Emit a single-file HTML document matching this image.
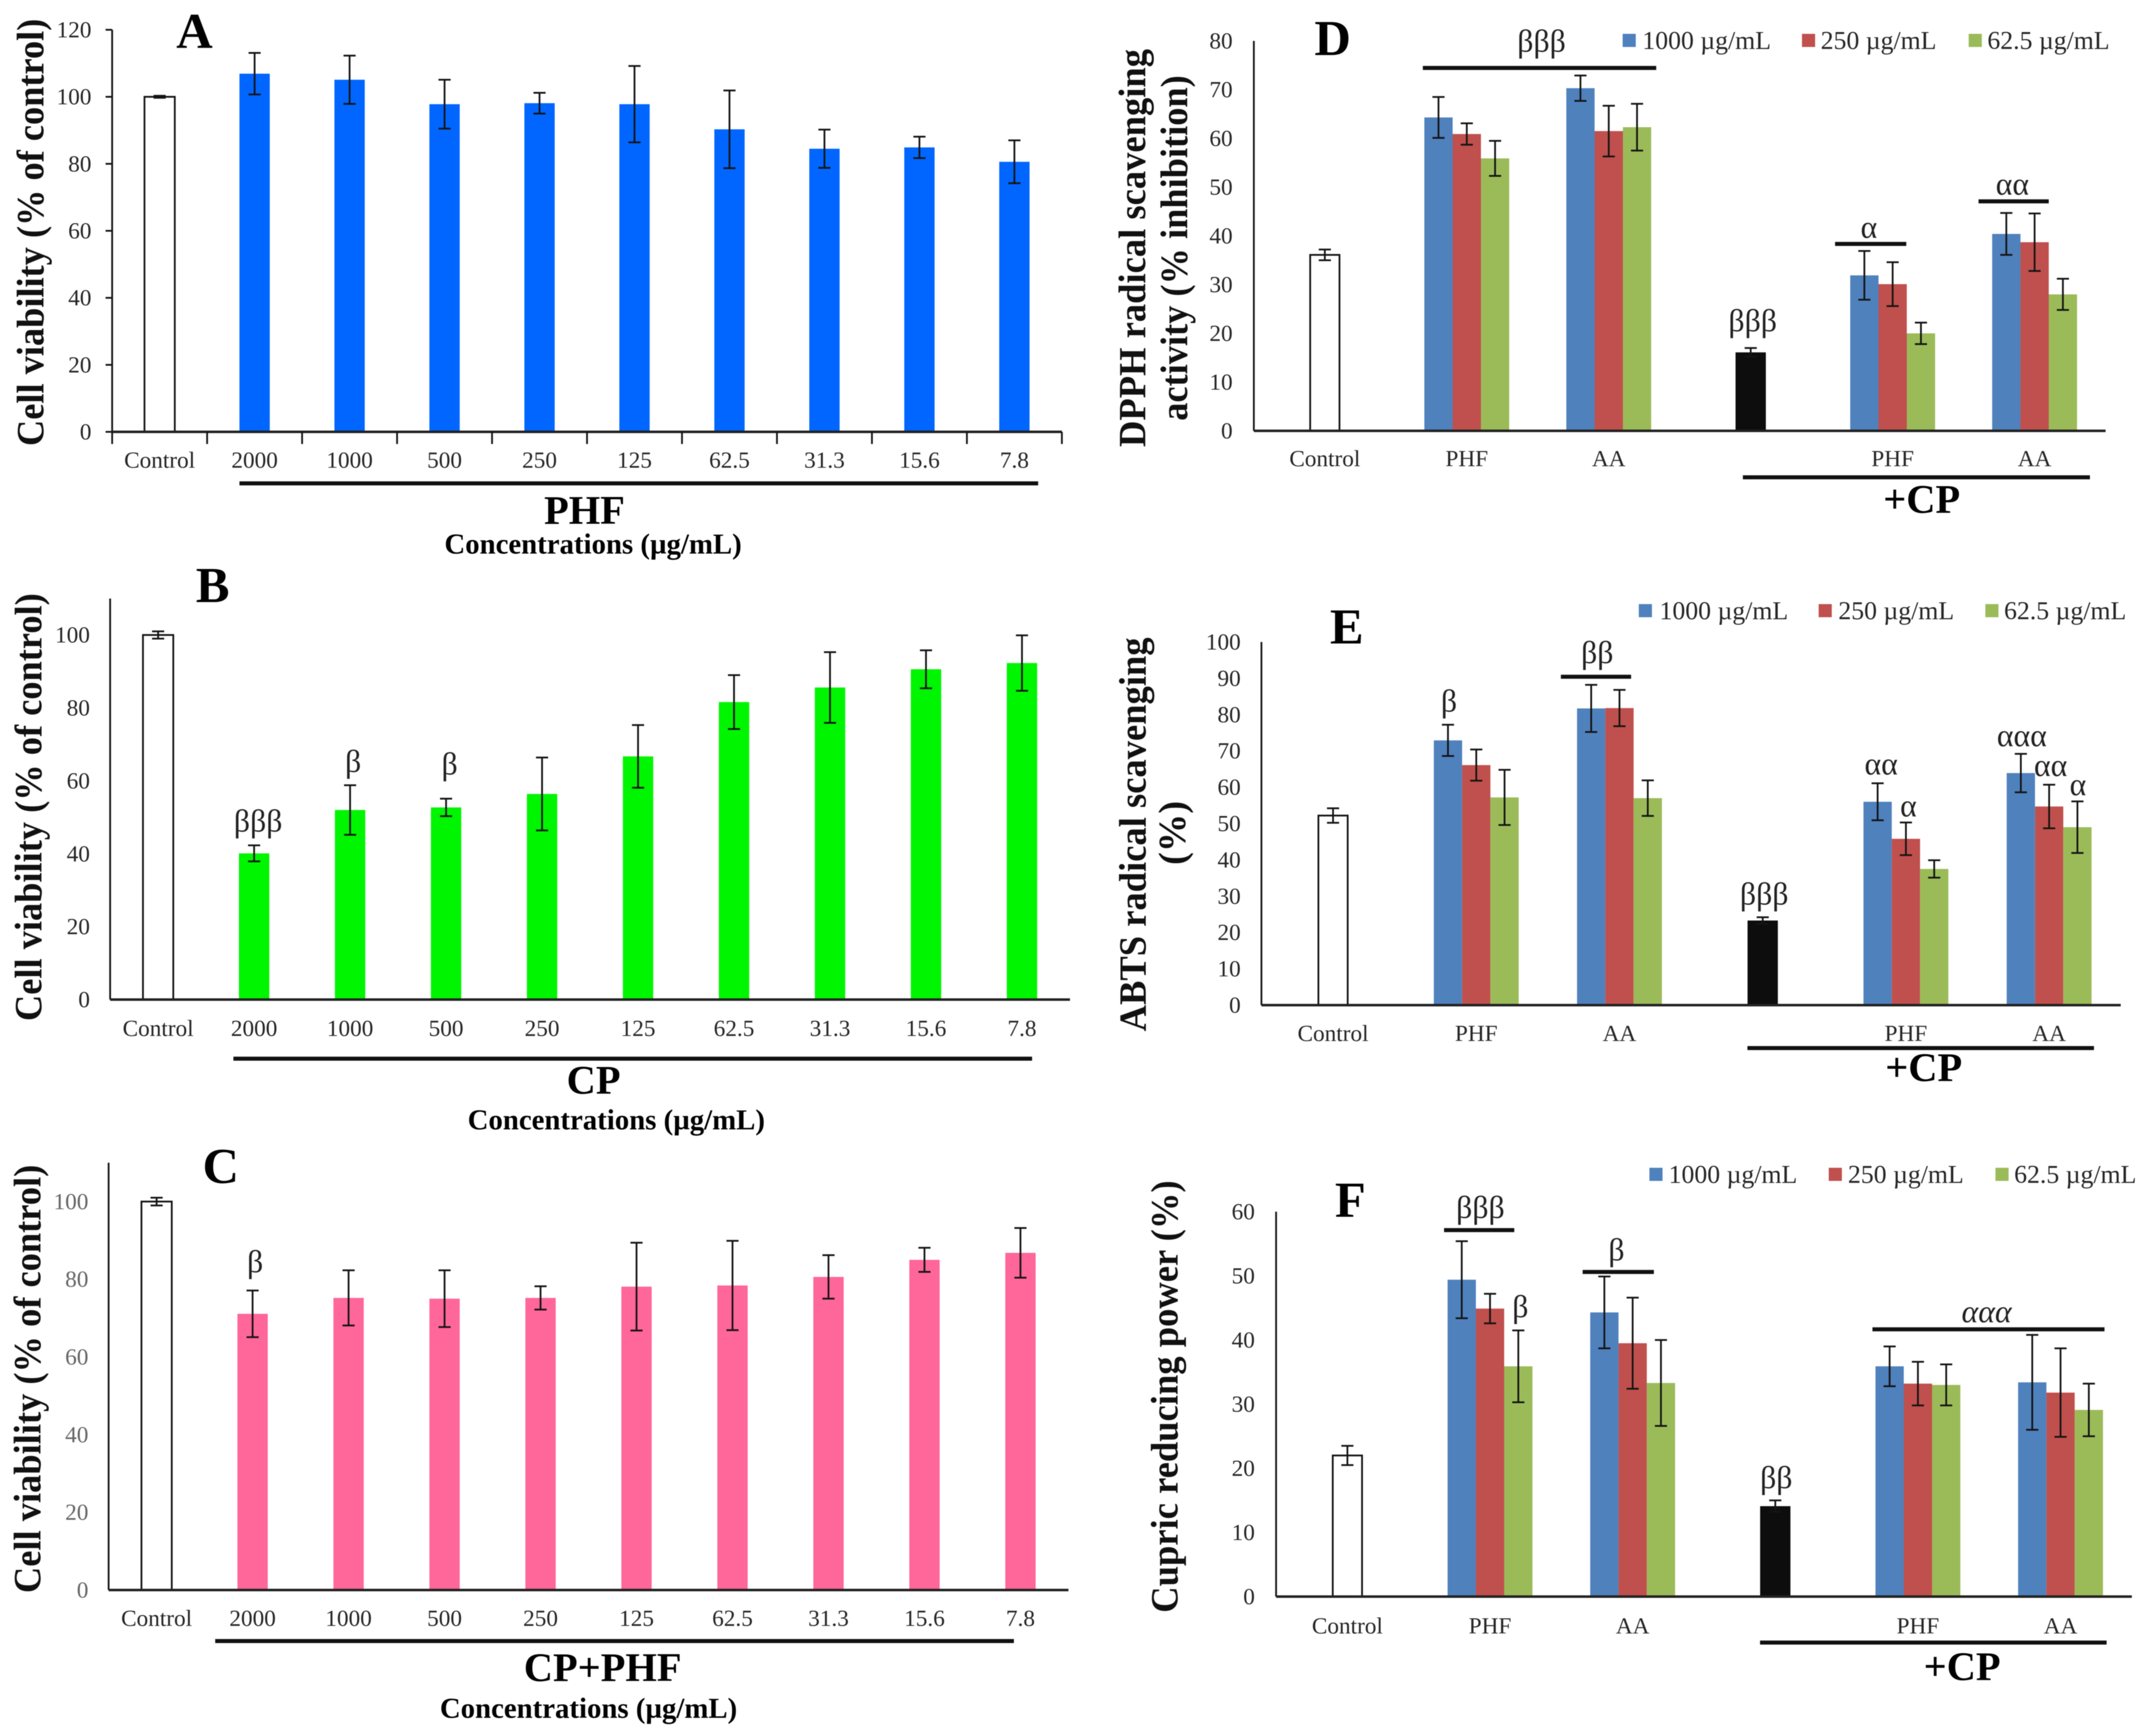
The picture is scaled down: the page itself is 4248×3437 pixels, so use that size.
<!DOCTYPE html>
<html lang="en">
<head>
<meta charset="utf-8">
<title>Cell viability and antioxidant activity panels</title>
<style>
html,body{margin:0;padding:0;background:#fff;width:4248px;height:3437px;overflow:hidden}
svg{display:block;position:absolute;left:0;top:0;filter:blur(0.9px)}
text{font-family:"Liberation Serif",serif;fill:#1a1a1a}
.t{font-size:46px;fill:#262626}
.title{font-size:76px;font-weight:bold;fill:#111}
.letter{font-size:100px;font-weight:bold;fill:#000;text-anchor:middle}
.group{font-size:80px;font-weight:bold;fill:#000;text-anchor:middle}
.conc{font-size:57px;font-weight:bold;fill:#000;text-anchor:middle}
.sig{font-size:63px;fill:#222;text-anchor:middle}
.leg{font-size:51px;fill:#262626}
</style>
</head>
<body>
<svg id="figure" xmlns="http://www.w3.org/2000/svg" width="4248" height="3437" viewBox="0 0 4248 3437">
  <rect x="0" y="0" width="4248" height="3437" fill="#fff"/>

  <g id="panel-a"></g>
  <g id="panel-b"></g>
  <g id="panel-c"></g>
  <g id="panel-d"></g>
  <g id="panel-e"></g>
  <g id="panel-f"></g>

  <text class="letter" x="385" y="95">A</text>
  <text class="title" text-anchor="middle" textLength="846" lengthAdjust="spacingAndGlyphs" transform="translate(86,460) rotate(-90)">Cell viability (% of control)</text>
  <rect x="474" y="953" width="1581" height="8" fill="#111"/>
  <text class="group" x="1157" y="1037">PHF</text>
  <text class="conc" x="1174" y="1096">Concentrations (µg/mL)</text>

  <text class="letter" x="421" y="1192">B</text>
  <text class="title" text-anchor="middle" textLength="847" lengthAdjust="spacingAndGlyphs" transform="translate(82,1598) rotate(-90)">Cell viability (% of control)</text>
  <rect x="462" y="2092" width="1581" height="8" fill="#111"/>
  <text class="group" x="1175" y="2165">CP</text>
  <text class="conc" x="1220" y="2236">Concentrations (µg/mL)</text>

  <text class="letter" x="437" y="2342">C</text>
  <text class="title" text-anchor="middle" textLength="848" lengthAdjust="spacingAndGlyphs" transform="translate(80,2730) rotate(-90)">Cell viability (% of control)</text>
  <rect x="426" y="3245" width="1581" height="8" fill="#111"/>
  <text class="group" x="1193" y="3328">CP+PHF</text>
  <text class="conc" x="1165" y="3401">Concentrations (µg/mL)</text>

  <text class="letter" x="2638" y="109">D</text>
  <text class="title" text-anchor="middle" textLength="788" lengthAdjust="spacingAndGlyphs" transform="translate(2267,491) rotate(-90)">DPPH radical scavenging</text>
  <text class="title" text-anchor="middle" textLength="684" lengthAdjust="spacingAndGlyphs" transform="translate(2350,491) rotate(-90)">activity (% inhibition)</text>
  <rect x="3450" y="941" width="687" height="8" fill="#111"/>
  <text class="group" x="3804" y="1015">+CP</text>

  <text class="letter" x="2666" y="1274">E</text>
  <text class="title" text-anchor="middle" textLength="780" lengthAdjust="spacingAndGlyphs" transform="translate(2268,1652) rotate(-90)">ABTS radical scavenging</text>
  <text class="title" text-anchor="middle" transform="translate(2346,1649) rotate(-90)">(%)</text>
  <rect x="3459" y="2071" width="686" height="8" fill="#111"/>
  <text class="group" x="3808" y="2140">+CP</text>

  <text class="letter" x="2673" y="2409">F</text>
  <text class="title" text-anchor="middle" textLength="856" lengthAdjust="spacingAndGlyphs" transform="translate(2331,2765) rotate(-90)">Cupric reducing power (%)</text>
  <rect x="3484" y="3248" width="686" height="8" fill="#111"/>
  <text class="group" x="3884" y="3326">+CP</text>
</svg>

<script>
// ---------- shared labels ----------
var concentrationCategories = ['Control', '2000', '1000', '500', '250', '125', '62.5', '31.3', '15.6', '7.8'];
var treatmentCategories = ['Control', 'PHF', 'AA', '', 'PHF', 'AA'];
var legendLabels = ['1000 µg/mL', '250 µg/mL', '62.5 µg/mL'];

// ---------- panel A ----------
var aTicks = [0, 20, 40, 60, 80, 100, 120];
var aValues = [100, 106.9, 105.1, 97.8, 98.1, 97.8, 90.3, 84.5, 84.9, 80.6];
var aErrors = [0.3, 6.2, 7.2, 7.3, 3.1, 11.4, 11.6, 5.7, 3.2, 6.4];

// ---------- panel B ----------
var bTicks = [0, 20, 40, 60, 80, 100];
var bValues = [100, 40.1, 52, 52.7, 56.4, 66.7, 81.6, 85.6, 90.6, 92.3];
var bErrors = [1, 2.2, 6.8, 2.4, 10, 8.6, 7.4, 9.7, 5.2, 7.6];

// ---------- panel C ----------
var cTicks = [0, 20, 40, 60, 80, 100];
var cValues = [100, 71.1, 75.2, 75, 75.2, 78.1, 78.4, 80.6, 85, 86.8];
var cErrors = [1, 6, 7.1, 7.3, 3, 11.3, 11.5, 5.6, 3.1, 6.4];

// ---------- panel D ----------
var dTicks = [0, 10, 20, 30, 40, 50, 60, 70, 80];
var dControl = [36.1, 1.1];
var dCp = [16.1, 0.9];
var dSeries1000 = [64.3, 70.3, 31.9, 40.4];
var dSeries250 = [60.9, 61.5, 30.1, 38.7];
var dSeries625 = [55.9, 62.3, 20, 28];
var dErrors1000 = [4.2, 2.6, 5, 4.3];
var dErrors250 = [2.2, 5.2, 4.5, 5.9];
var dErrors625 = [3.6, 4.8, 2.2, 3.2];

// ---------- panel E ----------
var eTicks = [0, 10, 20, 30, 40, 50, 60, 70, 80, 90, 100];
var eControl = [52.2, 2];
var eCp = [23.3, 0.9];
var eSeries1000 = [72.9, 81.7, 56, 63.9];
var eSeries250 = [66.1, 81.8, 45.8, 54.7];
var eSeries625 = [57.2, 57, 37.5, 49];
var eErrors1000 = [4.3, 6.5, 5.1, 5.3];
var eErrors250 = [4.3, 5, 4.5, 6];
var eErrors625 = [7.6, 4.9, 2.4, 7.1];

// ---------- panel F ----------
var fTicks = [0, 10, 20, 30, 40, 50, 60];
var fControl = [22, 1.5];
var fCp = [14.1, 0.9];
var fSeries1000 = [49.4, 44.3, 35.9, 33.4];
var fSeries250 = [44.9, 39.5, 33.2, 31.8];
var fSeries625 = [35.9, 33.3, 33, 29.1];
var fErrors1000 = [6, 5.6, 3.1, 7.4];
var fErrors250 = [2.3, 7.1, 3.4, 6.9];
var fErrors625 = [5.6, 6.7, 3.2, 4.1];

var SVGNS = 'http://www.w3.org/2000/svg';
var INK = '#141414';

function make(parent, tag, attrs, txt) {
  var el = document.createElementNS(SVGNS, tag);
  for (var k in attrs) { el.setAttribute(k, attrs[k]); }
  if (txt !== undefined) { el.textContent = txt; }
  parent.appendChild(el);
  return el;
}

function linearY(zero, top, max) {
  return function (v) { return zero - (v / max) * (zero - top); };
}
function bandX(left, right, count) {
  var step = (right - left) / count;
  return function (i) { return left + step * (i + 0.5); };
}

function drawAxes(g, key, o) {
  var el;
  el = make(g, 'line', { x1: o.left, x2: o.left, y1: o.top, y2: o.zero, stroke: INK, 'stroke-width': 3.5 });
  
  
  o.ticks.forEach(function (t) {
    var y = o.y(t);
    var label = make(g, 'text', { x: o.left + o.labelDx, y: y + 15, 'text-anchor': 'end', 'class': 't', style: 'fill:' + o.tickColor }, String(t));
    
    
    if (o.yTickMarks) {
      var tick = make(g, 'line', { x1: o.left - 13, x2: o.left, y1: y, y2: y, stroke: INK, 'stroke-width': 3.5 });
      
      
    }
  });
}

function drawXAxis(g, key, o, cats) {
  var el = make(g, 'line', { x1: o.left, x2: o.right, y1: o.zero, y2: o.zero, stroke: '#222', 'stroke-width': 5 });
  
  
  cats.forEach(function (c, i) {
    if (c === '') { return; }
    var label = make(g, 'text', { x: o.x(i), y: o.labelY, 'text-anchor': 'middle', 'class': 't' }, c);
    
    
  });
  if (o.xTickMarks) {
    for (var i = 0; i <= cats.length; i++) {
      var tx = o.left + (o.right - o.left) * i / cats.length;
      var tick = make(g, 'line', { x1: tx, x2: tx, y1: o.zero, y2: o.zero + 24, stroke: INK, 'stroke-width': 3.5 });
      
      
    }
  }
}

function drawBar(g, key, o, cx, width, value, fill, stroke) {
  var y = o.y(value);
  var attrs = { x: cx - width / 2, y: y, width: width, height: o.zero - y, fill: fill };
  if (stroke) { attrs.stroke = stroke; attrs['stroke-width'] = 3.5; }
  var el = make(g, 'rect', attrs);
  
  
}

function drawError(g, key, o, cx, value, err) {
  var hi = o.y(value + err), lo = o.y(value - err);
  var el = make(g, 'path', {
    d: 'M' + cx + ' ' + hi + 'V' + lo + 'M' + (cx - 12) + ' ' + hi + 'H' + (cx + 12) + 'M' + (cx - 12) + ' ' + lo + 'H' + (cx + 12),
    stroke: INK, 'stroke-width': 3.5, fill: 'none'
  });
  
  
}

function sigText(g, key, x, y, text, italic) {
  var attrs = { x: x, y: y, 'class': 'sig' };
  if (italic) { attrs['font-style'] = 'italic'; }
  var el = make(g, 'text', attrs, text);
  
  
}
function sigBar(g, key, x0, x1, y) {
  var el = make(g, 'rect', { x: x0, y: y - 4, width: x1 - x0, height: 8, fill: '#111' });
  
  
}

// Single-series dose panels (A, B, C)
function drawDosePanel(key, o, values, errors, color) {
  var g = document.getElementById(key);
  o.x = bandX(o.left, o.right, values.length);
  o.y = linearY(o.zero, o.top, o.max);
  drawAxes(g, key, o);
  values.forEach(function (v, i) {
    drawBar(g, key, o, o.x(i), 60, v, i === 0 ? '#fff' : color, i === 0 ? INK : null);
  });
  drawXAxis(g, key, o, concentrationCategories);
  values.forEach(function (v, i) { drawError(g, key, o, o.x(i), v, errors[i]); });
  o.errTop = function (i) { return o.y(values[i] + errors[i]); };
  o.g = g;
  return o;
}

// Grouped panels (D, E, F)
function drawGroupPanel(key, o, control, cp, series, errors, legendSpots) {
  var g = document.getElementById(key);
  var colors = ['#4f81bd', '#c0504d', '#9bbb59'];
  var barW = 56;
  var groupCats = [1, 2, 4, 5];
  o.x = bandX(o.left, o.right, treatmentCategories.length);
  o.y = linearY(o.zero, o.top, o.max);
  drawAxes(g, key, o);
  drawBar(g, key, o, o.x(0), 58, control[0], '#fff', INK);
  drawBar(g, key, o, o.x(3), 60, cp[0], '#0d0d0d', null);
  series.forEach(function (vals, s) {
    vals.forEach(function (v, j) {
      drawBar(g, key, o, o.x(groupCats[j]) + (s - 1) * barW, barW, v, colors[s], null);
    });
  });
  drawXAxis(g, key, o, treatmentCategories);
  drawError(g, key, o, o.x(0), control[0], control[1]);
  drawError(g, key, o, o.x(3), cp[0], cp[1]);
  series.forEach(function (vals, s) {
    vals.forEach(function (v, j) {
      drawError(g, key, o, o.x(groupCats[j]) + (s - 1) * barW, v, errors[s][j]);
    });
  });
  legendLabels.forEach(function (label, s) {
    var swatch = make(g, 'rect', { x: legendSpots.sw[s], y: legendSpots.y - 13, width: 26, height: 26, fill: colors[s] });
    
    
    var t = make(g, 'text', { x: legendSpots.tx[s], y: legendSpots.y + 17, 'class': 'leg' }, label);
    
    
  });
  o.g = g;
  // top of the error whisker for group j (0..3) / series s
  o.errTop = function (j, s) { return o.y(series[s][j] + errors[s][j]); };
  o.cpTop = function () { return o.y(cp[0] + cp[1]); };
  o.cx = function (j) { return o.x(groupCats[j]); };
  return o;
}

// ---------- draw ----------
var A = drawDosePanel('panel-a', { left: 222, right: 2102, zero: 855, top: 59, max: 120, ticks: aTicks, labelDx: -41, labelY: 926, tickColor: '#262626', yTickMarks: true, xTickMarks: true }, aValues, aErrors, '#0066ff');
var B = drawDosePanel('panel-b', { left: 218, right: 2118, zero: 1979, top: 1185, max: 110, ticks: bTicks, labelDx: -40, labelY: 2051, tickColor: '#262626' }, bValues, bErrors, '#00f500');
var C = drawDosePanel('panel-c', { left: 215, right: 2115, zero: 3148, top: 2302, max: 110, ticks: cTicks, labelDx: -40, labelY: 3219, tickColor: '#666' }, cValues, cErrors, '#ff6699');

sigText(B.g, 'panel-b', B.x(1) + 8, B.errTop(1) - 27, 'βββ');
sigText(B.g, 'panel-b', B.x(2) + 6, B.errTop(2) - 26, 'β');
sigText(B.g, 'panel-b', B.x(3) + 7, B.errTop(3) - 48, 'β');
sigText(C.g, 'panel-c', C.x(1) + 5, C.errTop(1) - 36, 'β');

var D = drawGroupPanel('panel-d', { left: 2482, right: 4168, zero: 853, top: 81, max: 80, ticks: dTicks, labelDx: -42, labelY: 923, tickColor: '#262626' },
  dControl, dCp, [dSeries1000, dSeries250, dSeries625], [dErrors1000, dErrors250, dErrors625],
  { sw: [3212, 3567, 3897], tx: [3251, 3604, 3934], y: 80 });
var E = drawGroupPanel('panel-e', { left: 2497, right: 4198, zero: 1990, top: 1271, max: 100, ticks: eTicks, labelDx: -41, labelY: 2061, tickColor: '#262626' },
  eControl, eCp, [eSeries1000, eSeries250, eSeries625], [eErrors1000, eErrors250, eErrors625],
  { sw: [3244, 3600, 3930], tx: [3285, 3639, 3967], y: 1209 });
var F = drawGroupPanel('panel-f', { left: 2526, right: 4220, zero: 3161, top: 2399, max: 60, ticks: fTicks, labelDx: -42, labelY: 3234, tickColor: '#262626' },
  fControl, fCp, [fSeries1000, fSeries250, fSeries625], [fErrors1000, fErrors250, fErrors625],
  { sw: [3265, 3620, 3950], tx: [3303, 3658, 3987], y: 2325 });

// Significance marks: anchored to the whisker tops they annotate
sigBar(D.g, 'panel-d', D.cx(0) - 87, D.cx(1) + 94, D.errTop(1, 0) - 15);
sigText(D.g, 'panel-d', D.cx(0) + 148, D.errTop(1, 0) - 47, 'βββ');
sigText(D.g, 'panel-d', D.x(3) + 4, D.cpTop() - 33, 'βββ');
sigBar(D.g, 'panel-d', D.cx(2) - 114, D.cx(2) + 27, D.errTop(2, 0) - 14);
sigText(D.g, 'panel-d', D.cx(2) - 47, D.errTop(2, 0) - 26, 'α');
sigBar(D.g, 'panel-d', D.cx(3) - 111, D.cx(3) + 28, D.errTop(3, 0) - 23);
sigText(D.g, 'panel-d', D.cx(3) - 44, D.errTop(3, 0) - 36, 'αα');

sigText(E.g, 'panel-e', E.cx(0) - 54, E.errTop(0, 0) - 26, 'β');
sigBar(E.g, 'panel-e', E.cx(1) - 116, E.cx(1) + 23, E.errTop(1, 0) - 16);
sigText(E.g, 'panel-e', E.cx(1) - 44, E.errTop(1, 0) - 43, 'ββ');
sigText(E.g, 'panel-e', E.x(3) + 3, E.cpTop() - 25, 'βββ');
sigText(E.g, 'panel-e', E.cx(2) - 49, E.errTop(2, 0) - 17, 'αα');
sigText(E.g, 'panel-e', E.cx(2) + 5, E.errTop(2, 1) - 12, 'α');
sigText(E.g, 'panel-e', E.cx(3) - 54, E.errTop(3, 0) - 15, 'ααα');
sigText(E.g, 'panel-e', E.cx(3) + 3, E.errTop(3, 1) - 17, 'αα');
sigText(E.g, 'panel-e', E.cx(3) + 57, E.errTop(3, 2) - 12, 'α');

sigBar(F.g, 'panel-f', F.cx(0) - 91, F.cx(0) + 48, F.errTop(0, 0) - 22);
sigText(F.g, 'panel-f', F.cx(0) - 19, F.errTop(0, 0) - 46, 'βββ');
sigBar(F.g, 'panel-f', F.cx(1) - 99, F.cx(1) + 42, F.errTop(1, 0) - 9);
sigText(F.g, 'panel-f', F.cx(1) - 32, F.errTop(1, 0) - 32, 'β');
sigText(F.g, 'panel-f', F.cx(0) + 60, F.errTop(0, 2) - 26, 'β');
sigText(F.g, 'panel-f', F.x(3) + 2, F.cpTop() - 24, 'ββ');
sigBar(F.g, 'panel-f', F.cx(2) - 90, F.cx(3) + 87, F.errTop(3, 0) - 11);
sigText(F.g, 'panel-f', F.cx(2) + 136, F.errTop(3, 0) - 25, 'ααα', true);
</script>
</body>
</html>
